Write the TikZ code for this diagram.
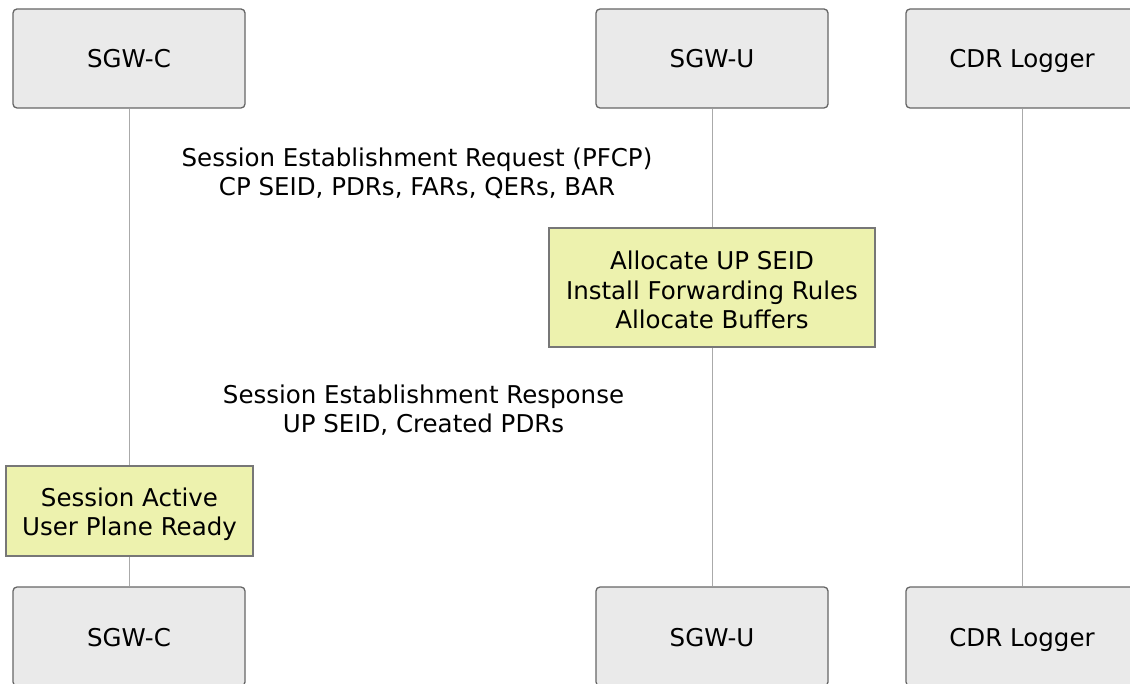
\documentclass[tikz,border=0pt]{standalone}
\usepackage{fontspec}
\setmainfont{DejaVu Sans}
\definecolor{actorfill}{RGB}{234,234,234}
\definecolor{actorline}{RGB}{102,102,102}
\definecolor{notefill}{RGB}{237,242,174}
\definecolor{noteline}{RGB}{119,119,119}
\definecolor{lifeline}{RGB}{170,170,170}
\newcommand{\lowlines}[2]{\raisebox{0pt}[\dimexpr\height+#1\relax][\depth]{\begin{tabular}{@{}c@{}}#2\end{tabular}}}
\tikzset{
  actor/.style={draw=actorline, line width=1.3pt, fill=actorfill, rounded corners=4pt,
    minimum width=232pt, minimum height=99pt, inner sep=0pt,
    text height=20pt, text depth=1pt,
    font=\fontsize{24.5}{29.5}\selectfont},
  notebox/.style={draw=noteline, line width=1.2pt, fill=notefill, inner sep=0pt,
    font=\fontsize{24.5}{29.5}\selectfont},
  msg/.style={align=center, inner sep=0pt, font=\fontsize{24.5}{29.5}\selectfont},
  life/.style={draw=lifeline, line width=1pt}
}
\begin{document}
\begin{tikzpicture}[x=1pt,y=-1pt]
\useasboundingbox (0,0) rectangle (1130,684);
\clip (0,0) rectangle (1130,684);
\fill[white] (0,0) rectangle (1130,684);
% participants top
\node[actor] (ct) at (129,58.5) {SGW-C};
\node[actor] (ut) at (712,58.5) {SGW-U};
\node[actor] (lt) at (1022,58.5) {CDR Logger};
% participants bottom
\node[actor] (cb) at (129,636.5) {SGW-C};
\node[actor] (ub) at (712,636.5) {SGW-U};
\node[actor] (lb) at (1022,636.5) {CDR Logger};
% lifelines
\draw[life] (ct.south) -- (cb.north);
\draw[life] (ut.south) -- (ub.north);
\draw[life] (lt.south) -- (lb.north);
% messages
\node[msg] (m1) at (417,173.5) {Session Establishment Request (PFCP)\\CP SEID, PDRs, FARs, QERs, BAR};
\node[msg] (m2) at (423.5,410) {Session Establishment Response\\UP SEID, Created PDRs};
% notes
\node[notebox, minimum width=326pt, minimum height=119pt] (n1) at (712,287.5)
  {\lowlines{12pt}{Allocate UP SEID\\Install Forwarding Rules\\Allocate Buffers}};
\node[notebox, minimum width=247pt, minimum height=90pt] (n2) at (129.5,511)
  {\lowlines{8pt}{Session Active\\User Plane Ready}};
\end{tikzpicture}
\end{document}
